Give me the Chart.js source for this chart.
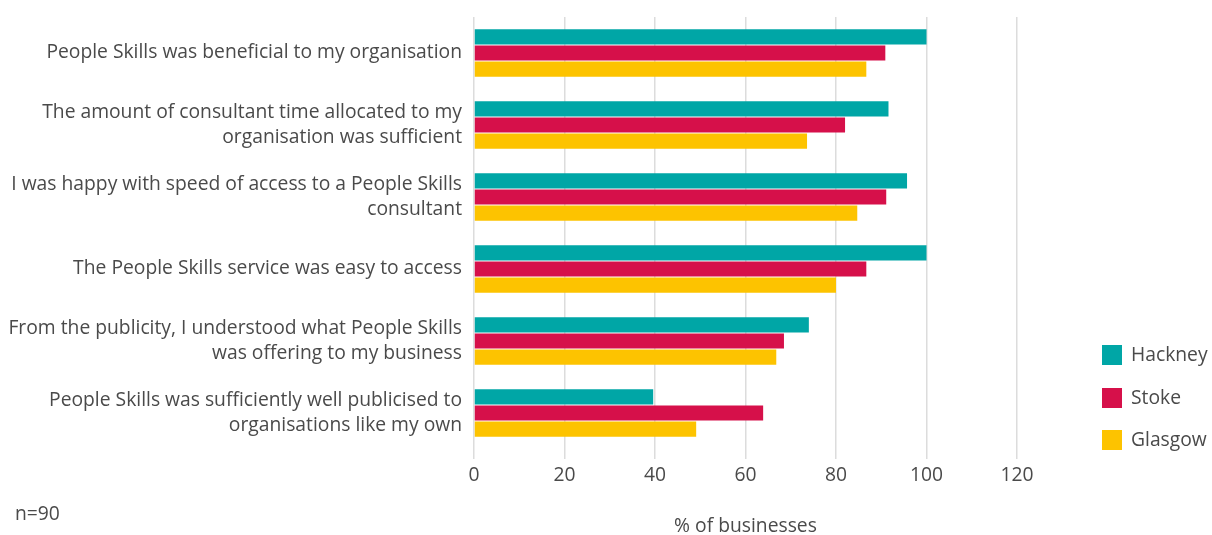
<!DOCTYPE html>
<html lang="en">
<head>
<meta charset="UTF-8">
<title>People Skills feedback</title>
<script src="https://cdn.jsdelivr.net/npm/chart.js@4"></script>
<style>
  body { margin: 0; background: #fff; }
  .chart-container { position: relative; width: 1212px; height: 535px; }
</style>
</head>
<body>
<div class="chart-container"><canvas id="feedbackChart"></canvas></div>
<script>
const statements = [
  'People Skills was beneficial to my organisation',
  ['The amount of consultant time allocated to my', 'organisation was sufficient'],
  ['I was happy with speed of access to a People Skills', 'consultant'],
  'The People Skills service was easy to access',
  ['From the publicity, I understood what People Skills', 'was offering to my business'],
  ['People Skills was sufficiently well publicised to', 'organisations like my own']
];
const hackney = [100, 91.6, 95.7, 100, 74.0, 39.6];
const stoke = [90.9, 82.0, 91.1, 86.7, 68.5, 63.9];
const glasgow = [86.7, 73.6, 84.7, 80.0, 66.8, 49.1];
const areaNames = ['Hackney', 'Stoke', 'Glasgow'];
const areaColors = ['#00a6a6', '#d6104a', '#fdc300'];
const xTicks = [0, 20, 40, 60, 80, 100, 120];
const sampleNote = 'n=90';

const FONT = '"Open Sans", sans-serif';
const TEXT = '#4a4a4a';
const SIZE = 19.3;

// legend drawn by hand in the right margin, plus the sample size note
const sideNotes = {
  id: 'sideNotes',
  afterDraw(chart) {
    const ctx = chart.ctx;
    ctx.save();
    ctx.font = SIZE + 'px ' + FONT;
    ctx.textBaseline = 'middle';
    ctx.textAlign = 'left';
    const rows = [355, 398, 440];
    areaNames.forEach((name, i) => {
      ctx.fillStyle = areaColors[i];
      ctx.fillRect(1102, rows[i] - 10, 20, 20);
      ctx.fillStyle = TEXT;
      ctx.fillText(name, 1131, rows[i] + 1);
    });
    ctx.fillText(sampleNote, 15, 515);
    ctx.restore();
  }
};

const ctx = document.getElementById('feedbackChart').getContext('2d');
new Chart(ctx, {
  type: 'bar',
  data: {
    labels: statements,
    datasets: [
      { label: areaNames[0], data: hackney, backgroundColor: areaColors[0] },
      { label: areaNames[1], data: stoke, backgroundColor: areaColors[1] },
      { label: areaNames[2], data: glasgow, backgroundColor: areaColors[2] }
    ]
  },
  options: {
    indexAxis: 'y',
    responsive: true,
    maintainAspectRatio: false,
    animation: false,
    barPercentage: 0.94,
    categoryPercentage: 0.67,
    layout: { padding: { top: 17, right: 195, left: 0, bottom: 0 } },
    plugins: {
      legend: { display: false },
      tooltip: { enabled: false }
    },
    scales: {
      x: {
        min: 0,
        max: 120,
        afterBuildTicks: scale => { scale.ticks = xTicks.map(v => ({ value: v })); },
        afterFit: scale => { scale.height = 86; },
        grid: { color: '#dcdcdc', lineWidth: 1.5, tickLength: 10, drawTicks: true },
        border: { display: false },
        ticks: { color: TEXT, font: { family: FONT, size: SIZE }, padding: 5 },
        title: {
          display: true,
          text: '% of businesses',
          color: TEXT,
          font: { family: FONT, size: SIZE },
          padding: { top: 0, bottom: -3 }
        }
      },
      y: {
        afterFit: scale => {
          scale.width = 474;
          scale.paddingTop = 0;
          scale.paddingBottom = 0;
        },
        grid: { display: false, drawTicks: false },
        border: { display: false },
        ticks: { color: TEXT, font: { family: FONT, size: SIZE, lineHeight: 1.25 }, padding: 12 }
      }
    }
  },
  plugins: [sideNotes]
});
</script>
</body>
</html>
